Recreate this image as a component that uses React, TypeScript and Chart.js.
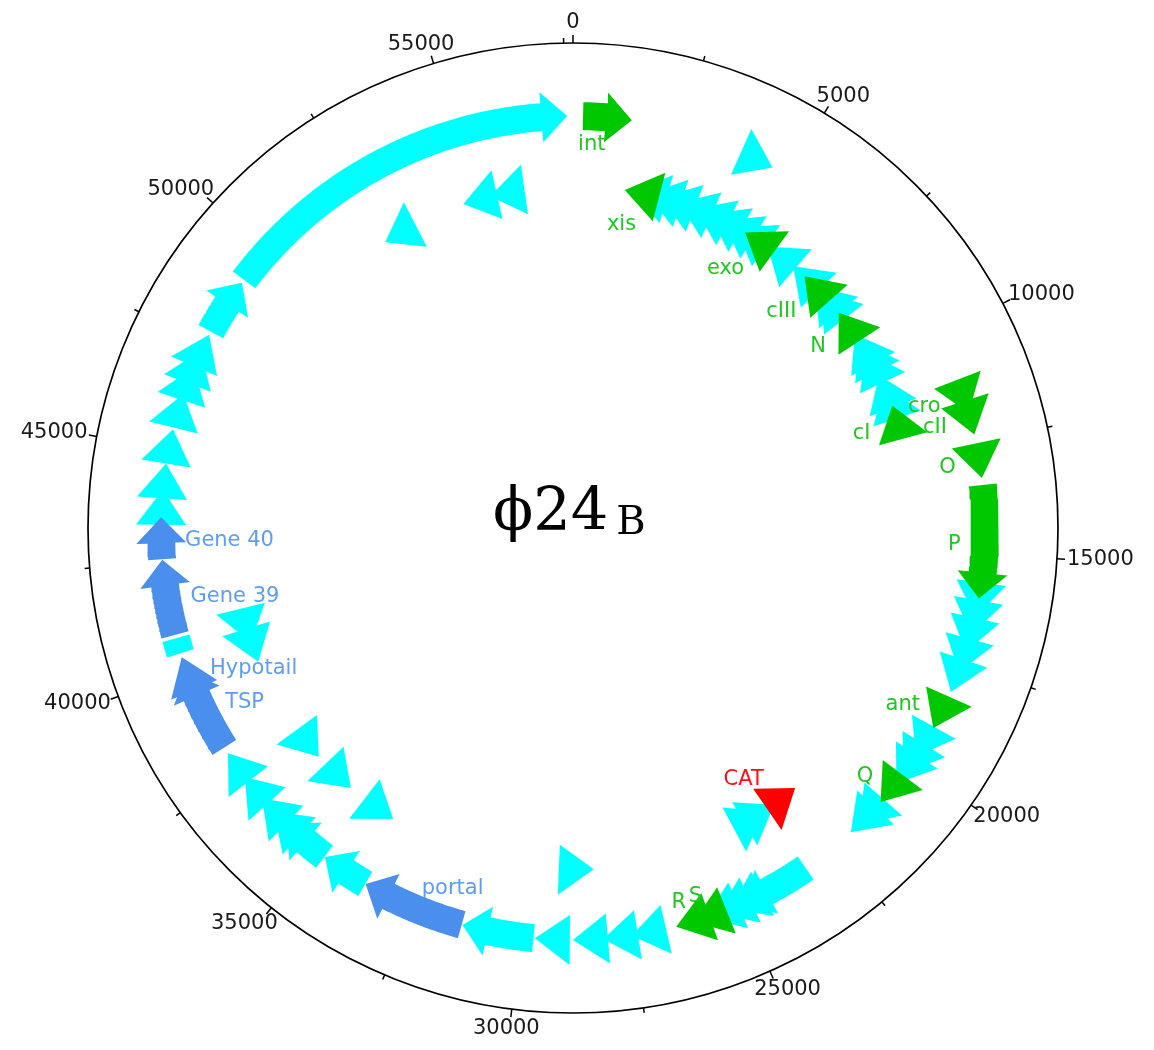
import React, { useEffect, useRef } from "react";
import { Chart, registerables } from "chart.js";

Chart.register(...registerables);

// ---------- data ----------
const GENOME_LENGTH = 57677;
const MAJOR_TICK = 5000;
const MINOR_TICK = 2500;
const TITLE_MAIN = "ϕ24";
const TITLE_SUB = "B";

const geneNames = [
  "int", "", "cro", "cII", "O", "P", "", "", "", "", "", "ant", "", "", "", "Q", "", "",
  "", "", "", "", "S", "R", "", "", "", "", "", "portal", "", "", "", "", "", "",
  "TSP", "Hypotail", "", "Gene 39", "Gene 40", "", "", "", "", "", "", "", "", "",
  "xis", "", "", "", "", "", "", "", "", "exo", "", "", "cIII", "", "", "N", "", "", "",
  "", "", "cI", "CAT", "", "", "", "", "", "", "", "", "", "", "",
];
const geneStarts = [
  224, 4300, 11500, 11980, 12620, 13460, 16010, 16400, 16800, 17250, 17700, 18700, 19400, 19900, 20150, 20750, 21450, 21700,
  23330, 24900, 25200, 25500, 25800, 26200, 27200, 27850, 28500, 28950, 29720, 31350, 33690, 34780, 35950, 36350, 36950, 37600,
  38100, 40000, 40420, 40850, 42560, 43800, 44400, 45150, 46000, 46600, 47000, 47400, 47820, 49190,
  1395, 1600, 2000, 2400, 2885, 3365, 3765, 4165, 4565, 4840, 5560, 6420, 6825, 7225, 7450, 8170, 8890, 9130, 9450,
  10170, 10490, 11055, 22350, 23070, 23390, 28280, 33920, 35330, 36530, 39570, 40130, 52340, 54680, 55430,
];
const geneEnds = [
  1315, 4640, 11820, 12320, 13300, 16000, 16420, 16820, 17220, 17700, 18180, 19070, 19820, 20270, 20555, 21100, 21790, 22045,
  24930, 25230, 25540, 25830, 26115, 26515, 27525, 28165, 28840, 29690, 31330, 33680, 34770, 35900, 36290, 36690, 37300, 37950,
  39990, 40330, 40770, 42550, 43500, 44110, 44700, 45480, 46300, 46940, 47340, 47740, 49110, 57550,
  1800, 2000, 2400, 2800, 3280, 3760, 4160, 4560, 4960, 5240, 5960, 6820, 7100, 7600, 7850, 8550, 9250, 9500, 9800,
  10550, 10850, 11450, 22700, 23400, 23700, 28600, 34250, 35650, 36850, 39900, 40450, 52700, 55000, 55750,
];
const geneStrands = [
  1, 1, 1, 1, 1, 1, 1, 1, 1, 1, 1, 1, 1, 1, 1, 1, 1, 1,
  1, 1, 1, 1, 1, 1, 1, 1, 1, 1, 1, 1, 1, 1, 1, 1, 1, 1,
  1, 1, 0, 1, 1, 1, 1, 1, 1, 1, 1, 1, 1, 1,
  -1, -1, -1, -1, -1, -1, -1, -1, -1, -1, -1, -1, -1, -1, -1, -1, -1, -1, -1,
  -1, -1, -1, -1, -1, -1, -1, -1, -1, -1, -1, -1, -1, -1, -1,
];
const geneKinds = [
  "early", "other", "early", "early", "early", "early", "other", "other", "other", "other", "other", "early", "other", "other", "other", "early", "other", "other",
  "other", "other", "other", "other", "early", "early", "other", "other", "other", "other", "other", "late", "other", "other", "other", "other", "other", "other",
  "late", "late", "other", "late", "late", "other", "other", "other", "other", "other", "other", "other", "other", "other",
  "early", "other", "other", "other", "other", "other", "other", "other", "other", "early", "other", "other", "early", "other", "other", "early", "other", "other", "other",
  "other", "other", "early", "marker", "other", "other", "other", "other", "other", "other", "other", "other", "other", "other", "other",
];

// ---------- styling ----------
const KIND_FILL: Record<string, string> = {
  early: "#00C800",
  late: "#4A8FEC",
  other: "#00FFFF",
  marker: "#FF0000",
};
const KIND_LABEL: Record<string, string> = {
  early: "#1EC81E",
  late: "#5E9DF0",
  other: "#00C8C8",
  marker: "#FF1010",
};

const CANVAS_W = 1138;
const CANVAS_H = 1034;
const PX = 485; // pixels per unit radius of the outer circle
const CENTER_X = 565;
const CENTER_Y = 520;

const RING_OUT = 412 / PX;
const RING_IN = 342 / PX;
const BODY_HALF = 14 / PX;
const HEAD_HALF = 25 / PX;
const HEAD_LEN = 26 / PX;
const TRI_LEN = 35 / PX;
const LABEL_OUT = 388 / PX;
const LABEL_IN = 313 / PX;

const TAU = Math.PI * 2;
const bpAngle = (bp: number) => (bp / GENOME_LENGTH) * TAU;
const toXY = (a: number, r: number) => ({ x: r * Math.sin(a), y: r * Math.cos(a) });

function pushArc(pts: { x: number; y: number }[], r: number, a: number, b: number) {
  const n = Math.max(1, Math.ceil(Math.abs(b - a) / 0.004));
  for (let k = 0; k <= n; k++) pts.push(toXY(a + ((b - a) * k) / n, r));
}

function geneShape(i: number) {
  const strand = geneStrands[i];
  const r = strand < 0 ? RING_IN : RING_OUT;
  const a0 = bpAngle(geneStarts[i]);
  const a1 = bpAngle(geneEnds[i]);
  const pts: { x: number; y: number }[] = [];
  let from = a0;
  let to = a1;
  if (strand === 0) {
    pushArc(pts, r + BODY_HALF, a0, a1);
    pushArc(pts, r - BODY_HALF, a1, a0);
  } else {
    const dir = strand > 0 ? 1 : -1;
    const tip = strand > 0 ? a1 : a0;
    const tail = strand > 0 ? a0 : a1;
    if ((a1 - a0) * r <= TRI_LEN) {
      const base = tip - (dir * TRI_LEN) / r;
      pts.push(toXY(base, r + HEAD_HALF), toXY(tip, r), toXY(base, r - HEAD_HALF));
      from = Math.min(base, tip);
      to = Math.max(base, tip);
    } else {
      const hb = tip - (dir * HEAD_LEN) / r;
      pushArc(pts, r + BODY_HALF, tail, hb);
      pts.push(toXY(hb, r + HEAD_HALF), toXY(tip, r), toXY(hb, r - HEAD_HALF));
      pushArc(pts, r - BODY_HALF, hb, tail);
    }
  }
  pts.push({ ...pts[0] });
  return { pts, from, to, strand };
}

const framePlugin = {
  id: "genomeFrame",
  afterDatasetsDraw(chart: any) {
    const { ctx } = chart;
    const xs = chart.scales.x;
    const ys = chart.scales.y;
    const px = (a: number, r: number) => {
      const p = toXY(a, r);
      return [xs.getPixelForValue(p.x), ys.getPixelForValue(p.y)];
    };
    const cx = xs.getPixelForValue(0);
    const cy = ys.getPixelForValue(0);
    const R = xs.getPixelForValue(1) - cx;
    ctx.save();
    // circle
    ctx.beginPath();
    ctx.arc(cx, cy, R, 0, TAU);
    ctx.strokeStyle = "#000";
    ctx.lineWidth = 1.7;
    ctx.stroke();
    // ticks
    ctx.lineWidth = 1.5;
    for (let v = 0; v < GENOME_LENGTH; v += MINOR_TICK) {
      const a = bpAngle(v);
      const len = v % MAJOR_TICK === 0 ? 8 : 5;
      const [x1, y1] = px(a, 1);
      const [x2, y2] = px(a, (R + len) / R);
      ctx.beginPath();
      ctx.moveTo(x1, y1);
      ctx.lineTo(x2, y2);
      ctx.stroke();
    }
    // tick labels
    ctx.font = '21px "DejaVu Sans"';
    ctx.fillStyle = "#1a1a1a";
    ctx.textAlign = "center";
    ctx.textBaseline = "middle";
    for (let v = 0; v < GENOME_LENGTH; v += MAJOR_TICK) {
      const a = bpAngle(v);
      const txt = String(v);
      const w = ctx.measureText(txt).width;
      const [ax, ay] = px(a, (R + 10) / R);
      ctx.fillText(txt, ax + (w / 2) * Math.sin(a), ay - 10 * Math.cos(a));
    }
    // gene labels
    ctx.font = '21px "DejaVu Sans"';
    for (let i = 0; i < geneNames.length; i++) {
      const name = geneNames[i];
      if (!name) continue;
      const g = geneShape(i);
      const mid = (g.from + g.to) / 2;
      const rl = g.strand < 0 ? LABEL_IN : LABEL_OUT;
      const [lx, ly] = px(mid, rl);
      const s = Math.sin(mid);
      ctx.textAlign = s > 0.05 ? "right" : s < -0.05 ? "left" : "center";
      ctx.textBaseline = "middle";
      ctx.fillStyle = KIND_LABEL[geneKinds[i]];
      ctx.fillText(name, lx, ly + 3);
    }
    // title
    ctx.fillStyle = "#000";
    ctx.textAlign = "left";
    ctx.textBaseline = "alphabetic";
    ctx.font = '59px "DejaVu Serif"';
    const tx = cx - 80;
    const ty = cy + 2;
    ctx.fillText(TITLE_MAIN, tx, ty);
    const mw = ctx.measureText(TITLE_MAIN).width;
    ctx.font = '40px "DejaVu Serif"';
    ctx.fillText(TITLE_SUB, tx + mw + 8, ty + 4);
    ctx.restore();
  },
};

export default function App() {
  const ref = useRef<HTMLCanvasElement | null>(null);
  useEffect(() => {
    if (!ref.current) return;
    const datasets = geneNames.map((name, i) => {
      const g = geneShape(i);
      return {
        label: name || `orf${i}`,
        data: g.pts,
        showLine: true,
        fill: "shape",
        backgroundColor: KIND_FILL[geneKinds[i]],
        borderColor: "rgba(0,0,0,0)",
        borderWidth: 0,
        pointRadius: 0,
        pointHoverRadius: 0,
        tension: 0,
        order: geneKinds[i] === "other" ? 1 : 0,
      };
    });
    const chart = new Chart(ref.current, {
      type: "scatter",
      data: { datasets: datasets as any },
      options: {
        animation: false,
        responsive: true,
        maintainAspectRatio: false,
        events: [],
        layout: { padding: 0 },
        plugins: {
          legend: { display: false },
          tooltip: { enabled: false },
          title: { display: false },
        },
        scales: {
          x: {
            type: "linear",
            display: false,
            min: -CENTER_X / PX,
            max: (CANVAS_W - CENTER_X) / PX,
          },
          y: {
            type: "linear",
            display: false,
            min: -(CANVAS_H - CENTER_Y) / PX,
            max: CENTER_Y / PX,
          },
        },
      },
      plugins: [framePlugin],
    });
    return () => chart.destroy();
  }, []);
  return (
    <div style={{ width: CANVAS_W, height: CANVAS_H, position: "relative" }}>
      <canvas ref={ref} />
    </div>
  );
}
